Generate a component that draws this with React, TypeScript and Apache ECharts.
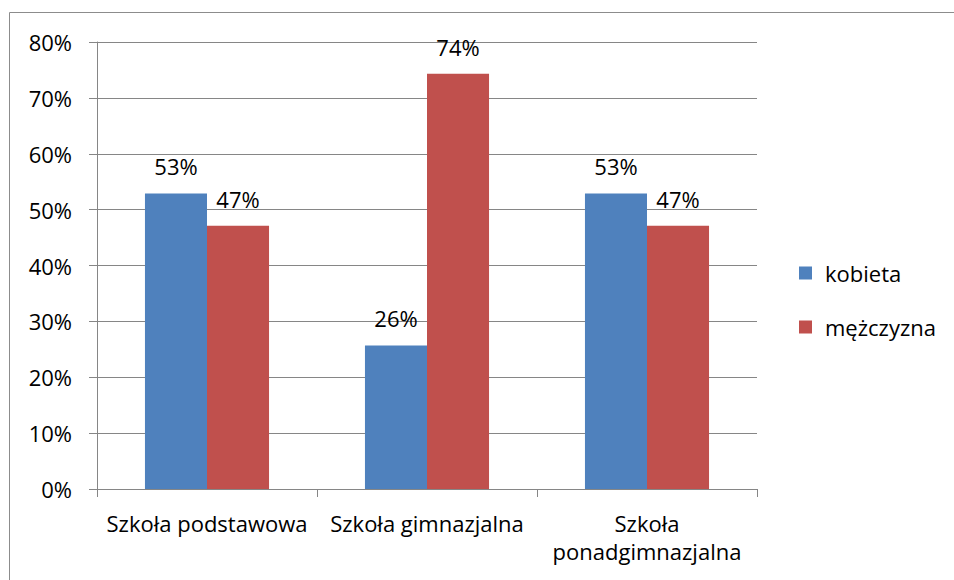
import React, { useEffect, useRef } from "react";
import * as echarts from "echarts";

const categories = ["Szkoła podstawowa", "Szkoła gimnazjalna", "Szkoła\nponadgimnazjalna"];
const seriesNames = ["kobieta", "mężczyzna"];
const kobieta = [52.9, 25.7, 52.9];
const mezczyzna = [47.1, 74.3, 47.1];
const yTicks = [0, 10, 20, 30, 40, 50, 60, 70, 80];

const FONT = "'Open Sans', sans-serif";
const FS = 22;

export default function App() {
  const ref = useRef<HTMLDivElement>(null);
  useEffect(() => {
    if (!ref.current) return;
    const chart = echarts.init(ref.current, undefined, { renderer: "svg" });
    const labelCfg = {
      show: true,
      position: "top" as const,
      distance: 15,
      color: "#000",
      fontSize: FS,
      lineHeight: 24,
      fontFamily: FONT,
      formatter: (p: any) => Math.round(p.value) + "%",
    };
    chart.setOption({
      animation: false,
      backgroundColor: "#fff",
      textStyle: { fontFamily: FONT },
      graphic: [
        {
          type: "rect",
          shape: { x: 9.5, y: 12.5, width: 1000, height: 1000 },
          style: { fill: "none", stroke: "#8c8c8c", lineWidth: 1 },
          silent: true,
        },
      ],
      grid: { left: 97, top: 42, right: 197, bottom: 91, containLabel: false },
      legend: {
        orient: "vertical",
        left: 799,
        top: 262,
        itemWidth: 13,
        itemHeight: 13,
        itemGap: 32,
        icon: "rect",
        padding: 0,
        textStyle: {
          fontSize: FS,
          lineHeight: 22,
          fontFamily: FONT,
          color: "#000",
          padding: [0, 0, 0, 8],
        },
        data: seriesNames,
      },
      xAxis: {
        type: "category",
        data: categories,
        axisLine: { lineStyle: { color: "#868686", width: 1 } },
        axisTick: { show: true, length: 8, alignWithLabel: false, lineStyle: { color: "#868686" } },
        axisLabel: {
          color: "#000",
          fontSize: FS,
          fontFamily: FONT,
          margin: 20,
          interval: 0,
          lineHeight: 28,
        },
      },
      yAxis: {
        type: "value",
        min: 0,
        max: 80,
        interval: 10,
        axisLine: { show: true, lineStyle: { color: "#868686", width: 1 } },
        axisTick: { show: true, length: 8, lineStyle: { color: "#868686" } },
        axisLabel: {
          color: "#000",
          fontSize: FS,
          fontFamily: FONT,
          margin: 25,
          formatter: (v: number) => (yTicks.includes(v) ? v + "%" : ""),
        },
        splitLine: { show: true, lineStyle: { color: "#868686", width: 1 } },
      },
      series: [
        {
          name: seriesNames[0],
          type: "bar",
          data: kobieta,
          barGap: "0%",
          barCategoryGap: "43.6%",
          itemStyle: { color: "#4F81BD" },
          label: labelCfg,
        },
        {
          name: seriesNames[1],
          type: "bar",
          data: mezczyzna,
          barGap: "0%",
          barCategoryGap: "43.6%",
          itemStyle: { color: "#C0504D" },
          label: labelCfg,
        },
      ],
    });
    return () => chart.dispose();
  }, []);
  return (
    <div
      ref={ref}
      style={{ position: "absolute", left: 0, top: 0, width: 954, height: 580 }}
    />
  );
}
